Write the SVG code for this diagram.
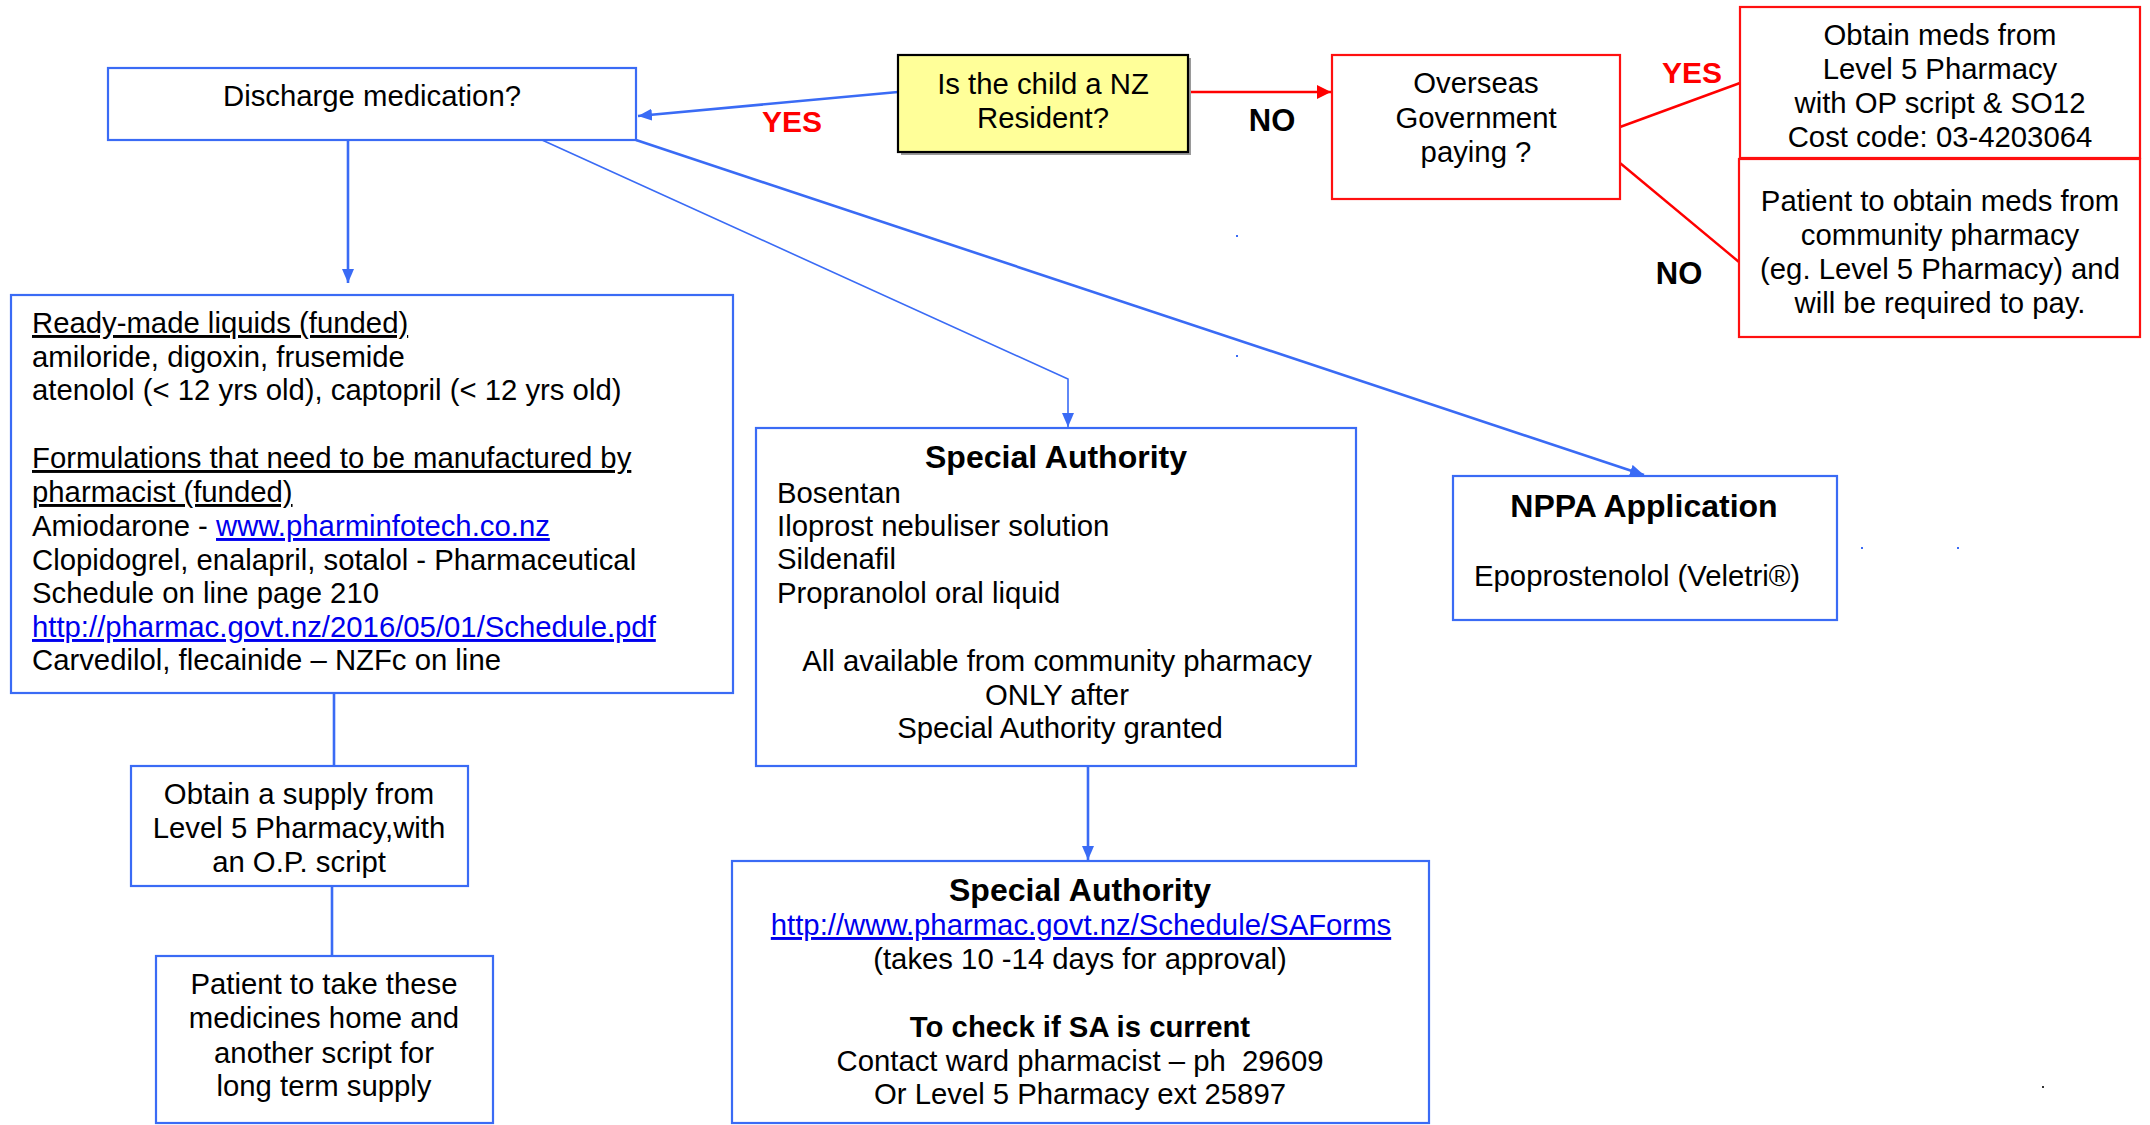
<svg xmlns="http://www.w3.org/2000/svg" width="2150" height="1125" viewBox="0 0 2150 1125">
<style>
text{font-family:"Liberation Sans",Arial,sans-serif;font-size:29.3px;fill:#000}
.c{text-anchor:middle}
.b{font-weight:bold}
.h{font-weight:bold;font-size:32px}
.u{text-decoration:underline}
.lk{fill:#0000EE;text-decoration:underline}
.pre{white-space:pre}
.bx{fill:#fff;stroke:#3A6BF5;stroke-width:2.2}
.rx{fill:#fff;stroke:#FF1010;stroke-width:2.2}
.bl{fill:none;stroke:#3A6BF5;stroke-width:2.6}
.bt{fill:none;stroke:#3A6BF5;stroke-width:1.6}
.rl{fill:none;stroke:#FF0000;stroke-width:2.4}
.red{fill:#FF0000;font-weight:bold;font-size:30px}
.lab{font-weight:bold;font-size:31px}
</style>
<defs>
<marker id="ab" viewBox="0 0 14 12" refX="14" refY="6" markerWidth="14" markerHeight="12" markerUnits="userSpaceOnUse" orient="auto"><path d="M0,0 L14,6 L0,12 z" fill="#3A6BF5"/></marker>
<marker id="ar" viewBox="0 0 14 14" refX="14" refY="7" markerWidth="14" markerHeight="14" markerUnits="userSpaceOnUse" orient="auto"><path d="M0,0 L14,7 L0,14 z" fill="#FF0000"/></marker>
</defs>
<rect width="2150" height="1125" fill="#fff"/>

<g id="connectors">
<path class="bl" d="M898,92 L638,116" marker-end="url(#ab)"/>
<path class="rl" d="M1188,92 L1331,92" marker-end="url(#ar)"/>
<path class="rl" d="M1620,127 L1740,83"/>
<path class="rl" d="M1620,163 L1739,262"/>
<path class="bl" d="M348,140 L348,283" marker-end="url(#ab)"/>
<path class="bt" d="M542,140 L1068,379 L1068,427" marker-end="url(#ab)"/>
<path class="bl" d="M636,140 L1644,475" marker-end="url(#ab)"/>
<path class="bl" d="M334,693 L334,766"/>
<path class="bl" d="M332,886 L332,956"/>
<path class="bl" d="M1088,766 L1088,860" marker-end="url(#ab)"/>
</g>

<g id="labels">
<text class="red c" x="792" y="132">YES</text>
<text class="lab c" x="1272" y="131">NO</text>
<text class="red c" x="1692" y="83">YES</text>
<text class="lab c" x="1679" y="284">NO</text>
</g>

<g id="n-discharge">
<rect class="bx" x="108" y="68" width="528" height="72"/>
<text class="c" x="372" y="106">Discharge medication?</text>
</g>

<g id="n-resident">
<rect x="901" y="58" width="290" height="97" fill="#9a9a9a"/>
<rect x="898" y="55" width="290" height="97" fill="#FFFF99" stroke="#000" stroke-width="2.2"/>
<text class="c" x="1043" y="94">Is the child a NZ</text>
<text class="c" x="1043" y="128">Resident?</text>
</g>

<g id="n-overseas">
<rect class="rx" x="1332" y="55" width="288" height="144"/>
<text class="c" x="1476" y="93">Overseas</text>
<text class="c" x="1476" y="128">Government</text>
<text class="c" x="1476" y="162">paying ?</text>
</g>

<g id="n-obtain-meds">
<rect class="rx" x="1740" y="7" width="400" height="151"/>
<text class="c" x="1940" y="45">Obtain meds from</text>
<text class="c" x="1940" y="79">Level 5 Pharmacy</text>
<text class="c" x="1940" y="113">with OP script &amp; SO12</text>
<text class="c" x="1940" y="147">Cost code: 03-4203064</text>
</g>

<g id="n-patient-pay">
<rect class="rx" x="1739" y="159" width="401" height="178"/>
<text class="c" x="1940" y="211">Patient to obtain meds from</text>
<text class="c" x="1940" y="245">community pharmacy</text>
<text class="c" x="1940" y="279">(eg. Level 5 Pharmacy) and</text>
<text class="c" x="1940" y="313">will be required to pay.</text>
</g>

<g id="n-readymade">
<rect class="bx" x="11" y="295" width="722" height="398"/>
<text x="32" y="333" class="u">Ready-made liquids (funded)</text>
<text x="32" y="367">amiloride, digoxin, frusemide</text>
<text x="32" y="400">atenolol (&lt; 12 yrs old), captopril (&lt; 12 yrs old)</text>
<text x="32" y="468" class="u">Formulations that need to be manufactured by</text>
<text x="32" y="502" class="u">pharmacist (funded)</text>
<text x="32" y="536">Amiodarone - <tspan class="lk">www.pharminfotech.co.nz</tspan></text>
<text x="32" y="570">Clopidogrel, enalapril, sotalol - Pharmaceutical</text>
<text x="32" y="603">Schedule on line page 210</text>
<text x="32" y="637" class="lk">http://pharmac.govt.nz/2016/05/01/Schedule.pdf</text>
<text x="32" y="670">Carvedilol, flecainide – NZFc on line</text>
</g>

<g id="n-sa1">
<rect class="bx" x="756" y="428" width="600" height="338"/>
<text class="h c" x="1056" y="468">Special Authority</text>
<text x="777" y="503">Bosentan</text>
<text x="777" y="536">Iloprost nebuliser solution</text>
<text x="777" y="569">Sildenafil</text>
<text x="777" y="603">Propranolol oral liquid</text>
<text class="c" x="1057" y="671">All available from community pharmacy</text>
<text class="c" x="1057" y="705">ONLY after</text>
<text class="c" x="1060" y="738">Special Authority granted</text>
</g>

<g id="n-nppa">
<rect class="bx" x="1453" y="476" width="384" height="144"/>
<text class="h c" x="1644" y="517">NPPA Application</text>
<text x="1474" y="586">Epoprostenolol (Veletri®)</text>
</g>

<g id="n-obtain-supply">
<rect class="bx" x="131" y="766" width="337" height="120"/>
<text class="c" x="299" y="804">Obtain a supply from</text>
<text class="c" x="299" y="838">Level 5 Pharmacy,with</text>
<text class="c" x="299" y="872">an O.P. script</text>
</g>

<g id="n-patient-home">
<rect class="bx" x="156" y="956" width="337" height="167"/>
<text class="c" x="324" y="994">Patient to take these</text>
<text class="c" x="324" y="1028">medicines home and</text>
<text class="c" x="324" y="1063">another script for</text>
<text class="c" x="324" y="1096">long term supply</text>
</g>

<g id="n-sa2">
<rect class="bx" x="732" y="861" width="697" height="262"/>
<text class="h c" x="1080" y="901">Special Authority</text>
<text class="lk c" x="1081" y="935">http://www.pharmac.govt.nz/Schedule/SAForms</text>
<text class="c" x="1080" y="969">(takes 10 -14 days for approval)</text>
<text class="b c" x="1080" y="1037">To check if SA is current</text>
<text class="c pre" x="1080" y="1071">Contact ward pharmacist – ph  29609</text>
<text class="c" x="1080" y="1104">Or Level 5 Pharmacy ext 25897</text>
</g>

<g id="specks" fill="#3A6BF5">
<rect x="1236" y="235" width="2" height="2"/>
<rect x="1236" y="355" width="2" height="2"/>
<rect x="1861" y="547" width="2" height="2"/>
<rect x="1957" y="547" width="2" height="2"/>
<rect x="2042" y="1086" width="2" height="2" fill="#333"/>
</g>
</svg>
